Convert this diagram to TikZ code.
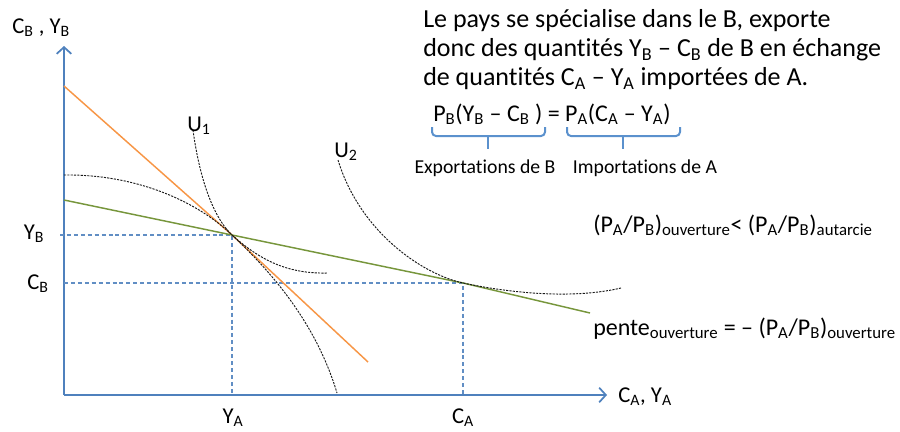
\documentclass[tikz,border=0pt]{standalone}
\usepackage{fontspec}
\setmainfont{Carlito}[Ligatures=NoCommon]
\usetikzlibrary{arrows.meta}
\definecolor{axisblue}{RGB}{79,129,189}
\definecolor{bracketblue}{RGB}{91,145,205}
\definecolor{autarkyorange}{RGB}{247,150,70}
\definecolor{tradegreen}{RGB}{119,150,60}
\newcommand{\sub}[1]{\textsubscript{#1}}
\tikzset{
	axis/.style={axisblue, line width=1.3pt},
	guide/.style={axisblue!90, line width=0.8pt, dash pattern=on 3pt off 2.2pt},
	indiff/.style={black!90, line width=0.7pt, dash pattern=on 1.6pt off 0.9pt},
	bracket/.style={bracketblue, line width=1.5pt, rounded corners=3pt},
	bigtext/.style={font=\fontsize{19.5}{23}\selectfont, inner sep=0pt, anchor=base west},
	midtext/.style={font=\fontsize{18}{22}\selectfont, inner sep=0pt, anchor=base west},
	axlabel/.style={font=\fontsize{17}{20}\selectfont, inner sep=0pt},
	smalltext/.style={font=\fontsize{14.8}{17}\selectfont, inner sep=0pt}
}
\begin{document}
\begin{tikzpicture}[x=0.75pt, y=-0.75pt]
	\useasboundingbox (0,0) rectangle (900,432);
	
	% axes
	\coordinate (O) at (64,395);
	\coordinate (ytop) at (64,46);
	\coordinate (xend) at (607,395);
	\draw[axis, -{Straight Barb[length=5pt, width=11pt]}] (O) -- (ytop);
	\draw[axis, -{Straight Barb[length=5pt, width=11pt]}] (O) -- (xend);
	\node[axlabel, anchor=base west] (ylab) at (12,33) {C\sub{B} , Y\sub{B}};
	\node[axlabel, anchor=base west] (xlab) at (618,402) {C\sub{A}, Y\sub{A}};
	
	% production and consumption points
	\coordinate (P) at (232,235);
	\coordinate (C) at (463,283);
	\coordinate (PyB) at (60,235);
	\coordinate (PyA) at (232,395);
	\coordinate (CyB) at (64,283);
	\coordinate (CyA) at (463,395);
	\draw[guide] (PyB) -- (P) -- (PyA);
	\draw[guide] (CyB) -- (C) -- (CyA);
	\node[axlabel, anchor=base] (YBlab) at (34,239) {Y\sub{B}};
	\node[axlabel, anchor=base] (CBlab) at (38,289) {C\sub{B}};
	\node[axlabel, anchor=base] (YAlab) at (233,423) {Y\sub{A}};
	\node[axlabel, anchor=base] (CAlab) at (463,423) {C\sub{A}};
	
	% price lines
	\coordinate (Ostart) at (64,86);
	\coordinate (Oend) at (368,362);
	\draw[autarkyorange, line width=1.1pt] (Ostart) -- (P) -- (Oend);
	\coordinate (Gstart) at (64,200);
	\coordinate (Gend) at (590,313);
	\draw[tradegreen, line width=1.1pt] (Gstart) -- (P) -- (C) -- (Gend);
	
	% frontier and indifference curves
	\draw[indiff] (64,175) .. controls (140,174) and (200,204) .. (P)
		.. controls (280,280) and (318,330) .. (337,393);
	\draw[indiff] (193,130) .. controls (199,175) and (212,216) .. (P)
		.. controls (262,262) and (290,274) .. (328,273);
	\draw[indiff] (338,160) .. controls (360,232) and (422,274) .. (C)
		.. controls (505,292) and (570,300) .. (621,288);
	\node[axlabel, anchor=base] (U1) at (199,131) {U\sub{1}};
	\node[axlabel, anchor=base] (U2) at (346,157) {U\sub{2}};
	
	% text
	\node[bigtext] (line1) at (423,27) {Le pays se spécialise dans le B, exporte};
	\node[bigtext] (line2) at (423,56) {donc des quantités Y\sub{B} – C\sub{B} de B en échange};
	\node[bigtext] (line3) at (423,85) {de quantités C\sub{A} – Y\sub{A} importées de A.};
	\node[midtext] (eq) at (433,121) {P\sub{B}(Y\sub{B} – C\sub{B} ) = P\sub{A}(C\sub{A} – Y\sub{A})};
	
	\draw[bracket] (432,127) |- (545,136) -- (545,127);
	\draw[bracketblue, line width=1.5pt] (488,136) -- (488,149);
	\draw[bracket] (567,127) |- (680,136) -- (680,127);
	\draw[bracketblue, line width=1.5pt] (623,136) -- (623,149);
	\node[smalltext] (expB) at (485,168) {Exportations de B};
	\node[smalltext] (impA) at (645,168) {Importations de A};
	
	\node[midtext] (ratio) at (593,232) {(P\sub{A}/P\sub{B})\sub{ouverture}< (P\sub{A}/P\sub{B})\sub{autarcie}};
	\node[midtext] (slope) at (593,335) {pente\sub{ouverture} = – (P\sub{A}/P\sub{B})\sub{ouverture}};
\end{tikzpicture}
\end{document}
